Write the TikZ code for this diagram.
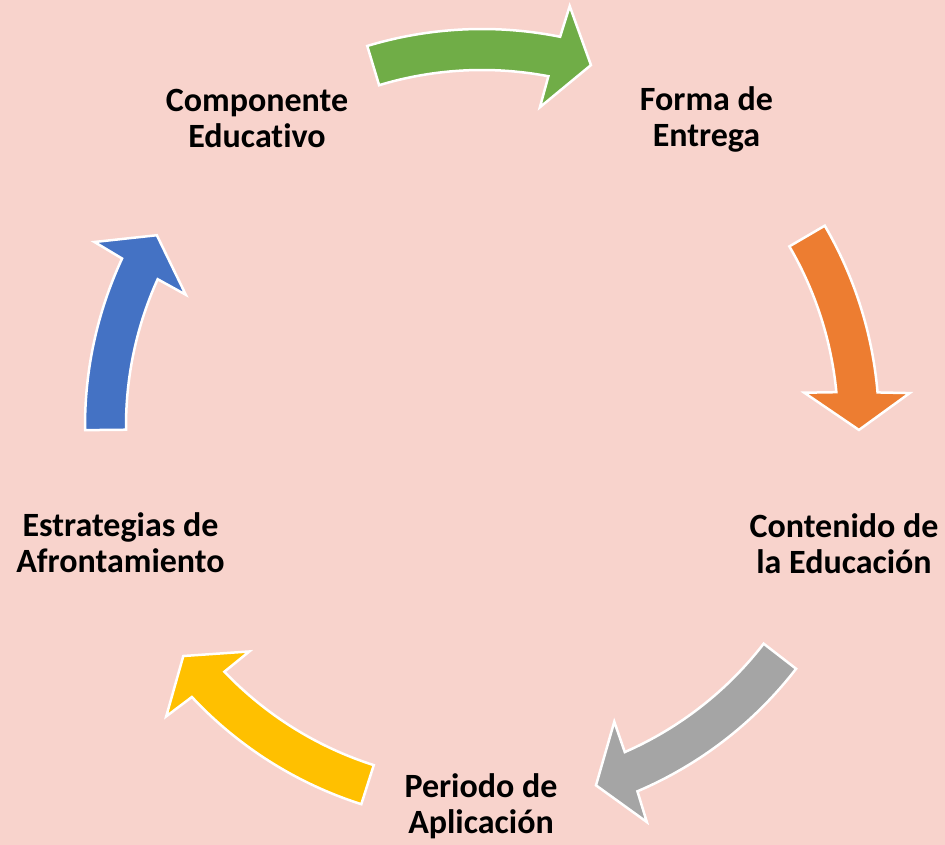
\documentclass[tikz,border=0pt]{standalone}
\usepackage{fontspec}
\setmainfont{Carlito}[Ligatures=NoCommon]
\definecolor{bg}{RGB}{248,211,204}
\definecolor{cgreen}{RGB}{112,173,71}
\definecolor{corange}{RGB}{237,125,49}
\definecolor{cgray}{RGB}{165,165,165}
\definecolor{cyellow}{RGB}{255,192,0}
\definecolor{cblue}{RGB}{68,114,196}
\newcommand{\cycarrow}[3]{%
  \filldraw[arrowshape, fill=#1]
  (#2:397pt) arc[start angle=#2, end angle={#3+5.45}, radius=397pt]
  -- ({#3+5}:429pt) -- (#3:377pt) -- ({#3+6.5}:324pt) -- ({#3+6.05}:356pt)
  arc[start angle={#3+6.05}, end angle=#2, radius=356pt] -- cycle;}
\tikzset{
  lbl/.style={font=\fontsize{34}{36}\selectfont\bfseries, align=center, inner sep=0pt, anchor=base},
  arrowshape/.style={draw=white, line width=2.5pt, line join=miter}
}
\begin{document}
\begin{tikzpicture}
\useasboundingbox (-482pt,-419pt) rectangle (463pt,426pt);
\fill[bg] (-482pt,-419pt) rectangle (463pt,426pt);
\cycarrow{cgreen}{106.8}{73.2}
\cycarrow{corange}{30.3}{-0.6}
\cycarrow{cgray}{-37.7}{-72.4}
\cycarrow{cyellow}{-107.7}{-142.4}
\cycarrow{cblue}{180.6}{149.6}
\node[lbl] (comp) at (-225pt,278.3pt) {Componente\\Educativo};
\node[lbl] (forma) at (224.5pt,279pt) {Forma de\\Entrega};
\node[lbl] (cont) at (362pt,-148pt) {Contenido de\\la Educación};
\node[lbl] (peri) at (-1pt,-407.3pt) {Periodo de\\Aplicación};
\node[lbl] (estr) at (-361.5pt,-146.7pt) {Estrategias de\\Afrontamiento};
\end{tikzpicture}
\end{document}
